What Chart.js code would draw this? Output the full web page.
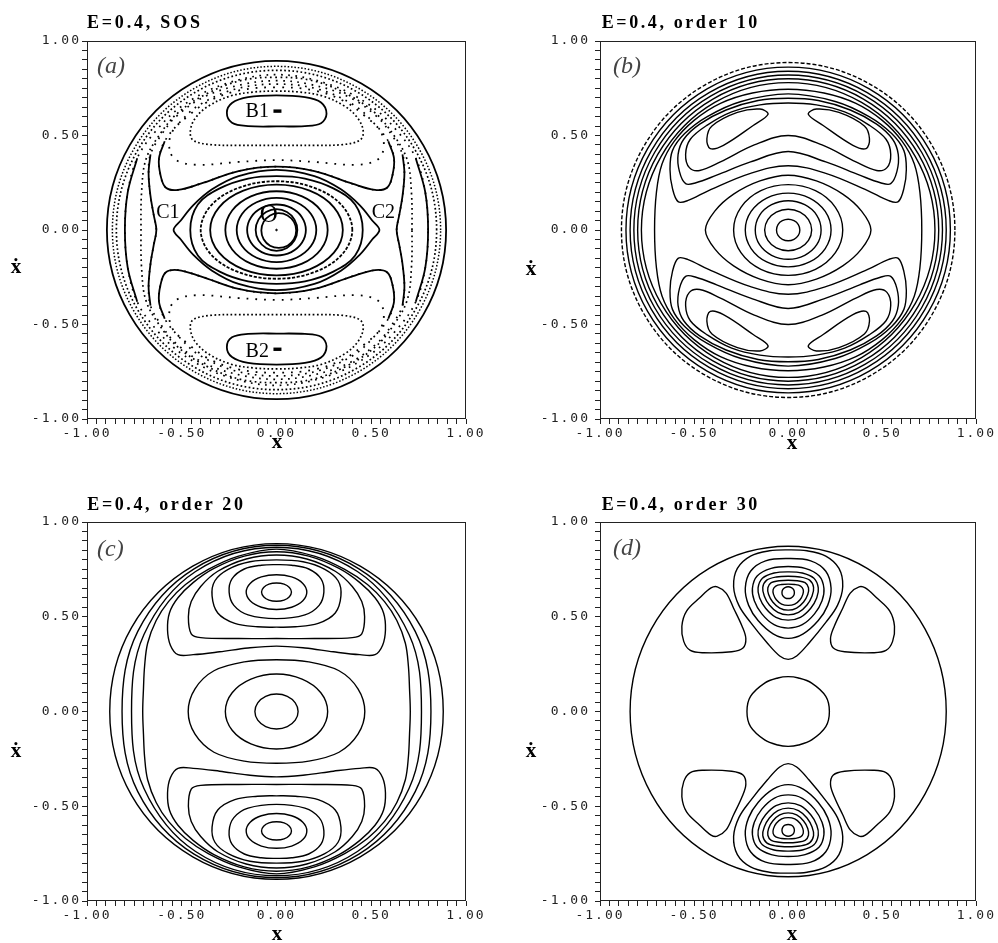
<!DOCTYPE html>
<html>
<head>
<meta charset="utf-8">
<script src="https://cdn.jsdelivr.net/npm/chart.js@4.4.1/dist/chart.umd.min.js"></script>
<style>
  body { margin: 0; background: #fff; width: 998px; height: 943px; position: relative; overflow: hidden; }
  canvas { position: absolute; }
</style>
</head>
<body>
<canvas id="pa" width="500" height="470" style="left:0;top:0"></canvas>
<canvas id="pb" width="498" height="470" style="left:500px;top:0"></canvas>
<canvas id="pc" width="500" height="473" style="left:0;top:470px"></canvas>
<canvas id="pd" width="498" height="473" style="left:500px;top:470px"></canvas>
<script>
// ---------- (a) surface of section ----------
const aOuter = [[0.895,0],[0.775,0.448],[0.448,0.775],[0,0.895],[-0.448,0.775],[-0.775,0.448],[-0.895,0],[-0.775,-0.448],[-0.448,-0.775],[0,-0.895],[0.448,-0.775],[0.775,-0.448]];
const aRing1 = [[0.866,0],[0.75,0.433],[0.433,0.75],[0,0.866],[-0.433,0.75],[-0.75,0.433],[-0.866,0],[-0.75,-0.433],[-0.433,-0.75],[0,-0.866],[0.433,-0.75],[0.75,-0.433]];
const aRing2 = [[0.845,0],[0.732,0.423],[0.423,0.732],[0,0.845],[-0.423,0.732],[-0.732,0.423],[-0.845,0],[-0.732,-0.423],[-0.423,-0.732],[0,-0.845],[0.423,-0.732],[0.732,-0.423]];
const aSecond = [[0.80,0],[0.785,0.2],[0.735,0.38],[0.64,0.52],[0.5,0.655],[0.28,0.77],[0,0.822],[-0.28,0.77],[-0.5,0.655],[-0.64,0.52],[-0.735,0.38],[-0.785,0.2],[-0.80,0],[-0.785,-0.2],[-0.735,-0.38],[-0.64,-0.52],[-0.5,-0.655],[-0.28,-0.77],[0,-0.822],[0.28,-0.77],[0.5,-0.655],[0.64,-0.52],[0.735,-0.38],[0.785,-0.2]];
const aSecondR = [[0.735,0.38],[0.785,0.2],[0.80,0],[0.785,-0.2],[0.735,-0.38]];
const aSecondL = [[-0.735,0.38],[-0.785,0.2],[-0.80,0],[-0.785,-0.2],[-0.735,-0.38]];
const aChain = [[0.715,0],[0.712,0.2],[0.69,0.37],[0.62,0.5],[0.52,0.62],[0.37,0.72],[0.19,0.79],[0,0.808],[-0.19,0.79],[-0.37,0.72],[-0.52,0.62],[-0.62,0.5],[-0.69,0.37],[-0.712,0.2],[-0.715,0],[-0.712,-0.2],[-0.69,-0.37],[-0.62,-0.5],[-0.52,-0.62],[-0.37,-0.72],[-0.19,-0.79],[0,-0.808],[0.19,-0.79],[0.37,-0.72],[0.52,-0.62],[0.62,-0.5],[0.69,-0.37],[0.712,-0.2]];
const aSep = [[0.634,0],[0.648,0.08],[0.665,0.18],[0.675,0.3],[0.665,0.4],[0.61,0.5],[0.53,0.6],[0.38,0.705],[0.18,0.77],[0,0.79],[-0.18,0.77],[-0.38,0.705],[-0.53,0.6],[-0.61,0.5],[-0.665,0.4],[-0.675,0.3],[-0.665,0.18],[-0.648,0.08],[-0.634,0],[-0.648,-0.08],[-0.665,-0.18],[-0.675,-0.3],[-0.665,-0.4],[-0.61,-0.5],[-0.53,-0.6],[-0.38,-0.705],[-0.18,-0.77],[0,-0.79],[0.18,-0.77],[0.38,-0.705],[0.53,-0.6],[0.61,-0.5],[0.665,-0.4],[0.675,-0.3],[0.665,-0.18],[0.648,-0.08]];
const aSepR = [[0.665,0.4],[0.675,0.3],[0.665,0.18],[0.648,0.08],[0.634,0],[0.648,-0.08],[0.665,-0.18],[0.675,-0.3],[0.665,-0.4]];
const aSepL = [[-0.665,0.4],[-0.675,0.3],[-0.665,0.18],[-0.648,0.08],[-0.634,0],[-0.648,-0.08],[-0.665,-0.18],[-0.675,-0.3],[-0.665,-0.4]];
const aIslandB1 = [[-0.262,0.62],[-0.235,0.672],[-0.15,0.703],[0,0.712],[0.15,0.703],[0.235,0.675],[0.264,0.615],[0.235,0.565],[0.15,0.55],[0,0.548],[-0.15,0.55],[-0.235,0.568]];
const aIslandB2 = [[-0.262,-0.62],[-0.235,-0.568],[-0.15,-0.55],[0,-0.548],[0.15,-0.55],[0.235,-0.565],[0.264,-0.615],[0.235,-0.675],[0.15,-0.703],[0,-0.712],[-0.15,-0.703],[-0.235,-0.672]];
const aUp2 = [[-0.455,0.52],[-0.43,0.59],[-0.36,0.655],[-0.24,0.71],[-0.12,0.73],[0,0.735],[0.12,0.73],[0.24,0.71],[0.36,0.655],[0.43,0.59],[0.458,0.52],[0.44,0.475],[0.35,0.452],[0.2,0.448],[0,0.448],[-0.2,0.448],[-0.35,0.452],[-0.44,0.475]];
const aLo2 = [[-0.455,-0.52],[-0.43,-0.59],[-0.36,-0.655],[-0.24,-0.71],[-0.12,-0.73],[0,-0.735],[0.12,-0.73],[0.24,-0.71],[0.36,-0.655],[0.43,-0.59],[0.458,-0.52],[0.44,-0.475],[0.35,-0.452],[0.2,-0.448],[0,-0.448],[-0.2,-0.448],[-0.35,-0.452],[-0.44,-0.475]];
const aUp3 = [[-0.565,0.43],[-0.55,0.52],[-0.47,0.6],[-0.36,0.68],[-0.2,0.738],[0,0.755],[0.2,0.738],[0.36,0.68],[0.47,0.6],[0.55,0.52],[0.565,0.43],[0.53,0.37],[0.42,0.345],[0.2,0.36],[0,0.37],[-0.2,0.36],[-0.42,0.345],[-0.53,0.37]];
const aLo3 = [[-0.565,-0.43],[-0.55,-0.52],[-0.47,-0.6],[-0.36,-0.68],[-0.2,-0.738],[0,-0.755],[0.2,-0.738],[0.36,-0.68],[0.47,-0.6],[0.55,-0.52],[0.565,-0.43],[0.53,-0.37],[0.42,-0.345],[0.2,-0.36],[0,-0.37],[-0.2,-0.36],[-0.42,-0.345],[-0.53,-0.37]];
const aUp4 = [[-0.585,0.225],[-0.612,0.29],[-0.62,0.38],[-0.59,0.47],[-0.51,0.57],[-0.41,0.66],[-0.22,0.745],[0,0.772],[0.22,0.745],[0.41,0.66],[0.51,0.57],[0.59,0.47],[0.62,0.38],[0.612,0.29],[0.585,0.225],[0.52,0.212],[0.4,0.245],[0.2,0.312],[0,0.335],[-0.2,0.312],[-0.4,0.245],[-0.52,0.212]];
const aUp4Arc = [[-0.59,0.47],[-0.62,0.38],[-0.612,0.29],[-0.585,0.225],[-0.52,0.212],[-0.4,0.245],[-0.2,0.312],[0,0.335],[0.2,0.312],[0.4,0.245],[0.52,0.212],[0.585,0.225],[0.612,0.29],[0.62,0.38],[0.59,0.47]];
const aLo4 = [[-0.585,-0.225],[-0.612,-0.29],[-0.62,-0.38],[-0.59,-0.47],[-0.51,-0.57],[-0.41,-0.66],[-0.22,-0.745],[0,-0.772],[0.22,-0.745],[0.41,-0.66],[0.51,-0.57],[0.59,-0.47],[0.62,-0.38],[0.612,-0.29],[0.585,-0.225],[0.52,-0.212],[0.4,-0.245],[0.2,-0.312],[0,-0.335],[-0.2,-0.312],[-0.4,-0.245],[-0.52,-0.212]];
const aLo4Arc = [[-0.59,-0.47],[-0.62,-0.38],[-0.612,-0.29],[-0.585,-0.225],[-0.52,-0.212],[-0.4,-0.245],[-0.2,-0.312],[0,-0.335],[0.2,-0.312],[0.4,-0.245],[0.52,-0.212],[0.585,-0.225],[0.612,-0.29],[0.62,-0.38],[0.59,-0.47]];
const aEye = [[-0.543,0],[-0.505,0.05],[-0.44,0.13],[-0.34,0.215],[-0.2,0.285],[0,0.318],[0.2,0.285],[0.34,0.215],[0.44,0.13],[0.505,0.05],[0.543,0],[0.505,-0.05],[0.44,-0.13],[0.34,-0.215],[0.2,-0.285],[0,-0.318],[-0.2,-0.285],[-0.34,-0.215],[-0.44,-0.13],[-0.505,-0.05]];
const aRing7 = [[0.455,0],[0.415,0.135],[0.3,0.22],[0.15,0.272],[0,0.285],[-0.15,0.272],[-0.3,0.22],[-0.415,0.135],[-0.455,0],[-0.415,-0.135],[-0.3,-0.22],[-0.15,-0.272],[0,-0.285],[0.15,-0.272],[0.3,-0.22],[0.415,-0.135]];
const aDashRing = [[0.4,0],[0.346,0.129],[0.2,0.223],[0,0.258],[-0.2,0.223],[-0.346,0.129],[-0.4,0],[-0.346,-0.129],[-0.2,-0.223],[0,-0.258],[0.2,-0.223],[0.346,-0.129]];
const aRing6 = [[0.35,0],[0.303,0.12],[0.175,0.208],[0,0.24],[-0.175,0.208],[-0.303,0.12],[-0.35,0],[-0.303,-0.12],[-0.175,-0.208],[0,-0.24],[0.175,-0.208],[0.303,-0.12]];
const aRing5 = [[0.27,0],[0.234,0.103],[0.135,0.178],[0,0.205],[-0.135,0.178],[-0.234,0.103],[-0.27,0],[-0.234,-0.103],[-0.135,-0.178],[0,-0.205],[0.135,-0.178],[0.234,-0.103]];
const aRing4 = [[0.21,0],[0.182,0.085],[0.105,0.147],[0,0.17],[-0.105,0.147],[-0.182,0.085],[-0.21,0],[-0.182,-0.085],[-0.105,-0.147],[0,-0.17],[0.105,-0.147],[0.182,-0.085]];
const aRing3 = [[0.155,0],[0.134,0.068],[0.078,0.117],[0,0.135],[-0.078,0.117],[-0.134,0.068],[-0.155,0],[-0.134,-0.068],[-0.078,-0.117],[0,-0.135],[0.078,-0.117],[0.134,-0.068]];
const aRing2c = [[0.11,0],[0.095,0.055],[0.055,0.095],[0,0.11],[-0.055,0.095],[-0.095,0.055],[-0.11,0],[-0.095,-0.055],[-0.055,-0.095],[0,-0.11],[0.055,-0.095],[0.095,-0.055]];
const aRing1c = [[0.104,-0.003],[0.092,0.043],[0.058,0.077],[0.012,0.089],[-0.034,0.077],[-0.068,0.043],[-0.08,-0.003],[-0.068,-0.049],[-0.034,-0.083],[0.012,-0.095],[0.058,-0.083],[0.092,-0.049]];
const aFixedB1 = [[0.005,0.629]];
const aFixedB2 = [[0.005,-0.631]];
const aFixedO = [[0,0]];

// ---------- (b) order 10 ----------
const bRing1 = [[0.886,0],[0.767,0.443],[0.443,0.767],[0,0.886],[-0.443,0.767],[-0.767,0.443],[-0.886,0],[-0.767,-0.443],[-0.443,-0.767],[0,-0.886],[0.443,-0.767],[0.767,-0.443]];
const bRing2 = [[0.862,0],[0.747,0.431],[0.431,0.747],[0,0.862],[-0.431,0.747],[-0.747,0.431],[-0.862,0],[-0.747,-0.431],[-0.431,-0.747],[0,-0.862],[0.431,-0.747],[0.747,-0.431]];
const bRing3 = [[0.84,0],[0.727,0.42],[0.42,0.727],[0,0.84],[-0.42,0.727],[-0.727,0.42],[-0.84,0],[-0.727,-0.42],[-0.42,-0.727],[0,-0.84],[0.42,-0.727],[0.727,-0.42]];
const bRing4 = [[0.82,0],[0.71,0.41],[0.41,0.71],[0,0.82],[-0.41,0.71],[-0.71,0.41],[-0.82,0],[-0.71,-0.41],[-0.41,-0.71],[0,-0.82],[0.41,-0.71],[0.71,-0.41]];
const bRing5 = [[0.8,0],[0.693,0.4],[0.4,0.693],[0,0.8],[-0.4,0.693],[-0.693,0.4],[-0.8,0],[-0.693,-0.4],[-0.4,-0.693],[0,-0.8],[0.4,-0.693],[0.693,-0.4]];
const bRing6 = [[0.78,0],[0.675,0.39],[0.39,0.675],[0,0.78],[-0.39,0.675],[-0.675,0.39],[-0.78,0],[-0.675,-0.39],[-0.39,-0.675],[0,-0.78],[0.39,-0.675],[0.675,-0.39]];
const bSide = [[0.71,0],[0.70,0.2],[0.67,0.35],[0.605,0.47],[0.5,0.58],[0.36,0.67],[0.19,0.725],[0,0.745],[-0.19,0.725],[-0.36,0.67],[-0.5,0.58],[-0.605,0.47],[-0.67,0.35],[-0.70,0.2],[-0.71,0],[-0.70,-0.2],[-0.67,-0.35],[-0.605,-0.47],[-0.5,-0.58],[-0.36,-0.67],[-0.19,-0.725],[0,-0.745],[0.19,-0.725],[0.36,-0.67],[0.5,-0.58],[0.605,-0.47],[0.67,-0.35],[0.70,-0.2]];
const bWingUp = [[-0.585,0.15],[-0.615,0.22],[-0.628,0.32],[-0.615,0.42],[-0.55,0.51],[-0.43,0.6],[-0.25,0.68],[0,0.72],[0.25,0.68],[0.43,0.6],[0.55,0.51],[0.615,0.42],[0.628,0.32],[0.615,0.22],[0.585,0.15],[0.535,0.155],[0.42,0.21],[0.2,0.3],[0,0.34],[-0.2,0.3],[-0.42,0.21],[-0.535,0.155]];
const bWingLo = [[-0.585,-0.15],[-0.615,-0.22],[-0.628,-0.32],[-0.615,-0.42],[-0.55,-0.51],[-0.43,-0.6],[-0.25,-0.68],[0,-0.72],[0.25,-0.68],[0.43,-0.6],[0.55,-0.51],[0.615,-0.42],[0.628,-0.32],[0.615,-0.22],[0.585,-0.15],[0.535,-0.155],[0.42,-0.21],[0.2,-0.3],[0,-0.34],[-0.2,-0.3],[-0.42,-0.21],[-0.535,-0.155]];
const bArchUp = [[-0.545,0.245],[-0.578,0.31],[-0.585,0.4],[-0.555,0.48],[-0.47,0.56],[-0.33,0.635],[-0.16,0.685],[0,0.697],[0.16,0.685],[0.33,0.635],[0.47,0.56],[0.555,0.48],[0.585,0.4],[0.578,0.31],[0.545,0.245],[0.49,0.25],[0.38,0.29],[0.2,0.36],[0,0.415],[-0.2,0.36],[-0.38,0.29],[-0.49,0.25]];
const bArchLo = [[-0.545,-0.245],[-0.578,-0.31],[-0.585,-0.4],[-0.555,-0.48],[-0.47,-0.56],[-0.33,-0.635],[-0.16,-0.685],[0,-0.697],[0.16,-0.685],[0.33,-0.635],[0.47,-0.56],[0.555,-0.48],[0.585,-0.4],[0.578,-0.31],[0.545,-0.245],[0.49,-0.25],[0.38,-0.29],[0.2,-0.36],[0,-0.415],[-0.2,-0.36],[-0.38,-0.29],[-0.49,-0.25]];
const bPairUp = [[-0.525,0.33],[-0.545,0.4],[-0.52,0.48],[-0.43,0.555],[-0.3,0.625],[-0.15,0.662],[0,0.672],[0.15,0.662],[0.3,0.625],[0.43,0.555],[0.52,0.48],[0.545,0.4],[0.525,0.33],[0.47,0.315],[0.36,0.36],[0.18,0.45],[0,0.5],[-0.18,0.45],[-0.36,0.36],[-0.47,0.315]];
const bPairLo = [[-0.525,-0.33],[-0.545,-0.4],[-0.52,-0.48],[-0.43,-0.555],[-0.3,-0.625],[-0.15,-0.662],[0,-0.672],[0.15,-0.662],[0.3,-0.625],[0.43,-0.555],[0.52,-0.48],[0.545,-0.4],[0.525,-0.33],[0.47,-0.315],[0.36,-0.36],[0.18,-0.45],[0,-0.5],[-0.18,-0.45],[-0.36,-0.36],[-0.47,-0.315]];
const bIslUL = [[-0.432,0.483],[-0.405,0.55],[-0.27,0.622],[-0.15,0.64],[-0.107,0.612],[-0.186,0.553],[-0.344,0.448],[-0.414,0.431]];
const bIslUR = [[0.432,0.483],[0.414,0.431],[0.344,0.448],[0.186,0.553],[0.107,0.612],[0.15,0.64],[0.27,0.622],[0.405,0.55]];
const bIslLL = [[-0.432,-0.483],[-0.414,-0.431],[-0.344,-0.448],[-0.186,-0.553],[-0.107,-0.612],[-0.15,-0.64],[-0.27,-0.622],[-0.405,-0.55]];
const bIslLR = [[0.432,-0.483],[0.405,-0.55],[0.27,-0.622],[0.15,-0.64],[0.107,-0.612],[0.186,-0.553],[0.344,-0.448],[0.414,-0.431]];
const bOval6 = [[0.44,0],[0.39,0.1],[0.29,0.19],[0.15,0.26],[0,0.29],[-0.15,0.26],[-0.29,0.19],[-0.39,0.1],[-0.44,0],[-0.39,-0.1],[-0.29,-0.19],[-0.15,-0.26],[0,-0.29],[0.15,-0.26],[0.29,-0.19],[0.39,-0.1]];
const bOval5 = [[0.29,0],[0.251,0.12],[0.145,0.208],[0,0.24],[-0.145,0.208],[-0.251,0.12],[-0.29,0],[-0.251,-0.12],[-0.145,-0.208],[0,-0.24],[0.145,-0.208],[0.251,-0.12]];
const bOval4 = [[0.228,0],[0.197,0.098],[0.114,0.169],[0,0.195],[-0.114,0.169],[-0.197,0.098],[-0.228,0],[-0.197,-0.098],[-0.114,-0.169],[0,-0.195],[0.114,-0.169],[0.197,-0.098]];
const bOval3 = [[0.175,0],[0.152,0.078],[0.088,0.134],[0,0.155],[-0.088,0.134],[-0.152,0.078],[-0.175,0],[-0.152,-0.078],[-0.088,-0.134],[0,-0.155],[0.088,-0.134],[0.152,-0.078]];
const bOval2 = [[0.125,0],[0.108,0.055],[0.063,0.095],[0,0.11],[-0.063,0.095],[-0.108,0.055],[-0.125,0],[-0.108,-0.055],[-0.063,-0.095],[0,-0.11],[0.063,-0.095],[0.108,-0.055]];
const bOval1 = [[0.062,0],[0.054,0.029],[0.031,0.049],[0,0.057],[-0.031,0.049],[-0.054,0.029],[-0.062,0],[-0.054,-0.029],[-0.031,-0.049],[0,-0.057],[0.031,-0.049],[0.054,-0.029]];

// ---------- (c) order 20 ----------
const cRing1 = [[0.88,0],[0.765,0.443],[0.442,0.767],[0,0.886],[-0.442,0.767],[-0.765,0.443],[-0.88,0],[-0.765,-0.443],[-0.442,-0.767],[0,-0.886],[0.442,-0.767],[0.765,-0.443]];
const cRing2 = [[0.815,0],[0.732,0.423],[0.435,0.753],[0,0.877],[-0.435,0.753],[-0.732,0.423],[-0.815,0],[-0.732,-0.423],[-0.435,-0.753],[0,-0.877],[0.435,-0.753],[0.732,-0.423]];
const cRing3 = [[0.765,0],[0.70,0.405],[0.427,0.739],[0,0.867],[-0.427,0.739],[-0.70,0.405],[-0.765,0],[-0.70,-0.405],[-0.427,-0.739],[0,-0.867],[0.427,-0.739],[0.70,-0.405]];
const cSide = [[0.706,0],[0.702,0.12],[0.696,0.24],[0.68,0.36],[0.635,0.48],[0.57,0.58],[0.48,0.67],[0.36,0.75],[0.2,0.82],[0,0.857],[-0.2,0.82],[-0.36,0.75],[-0.48,0.67],[-0.57,0.58],[-0.635,0.48],[-0.68,0.36],[-0.696,0.24],[-0.702,0.12],[-0.706,0],[-0.702,-0.12],[-0.696,-0.24],[-0.68,-0.36],[-0.635,-0.48],[-0.57,-0.58],[-0.48,-0.67],[-0.36,-0.75],[-0.2,-0.82],[0,-0.857],[0.2,-0.82],[0.36,-0.75],[0.48,-0.67],[0.57,-0.58],[0.635,-0.48],[0.68,-0.36],[0.696,-0.24],[0.702,-0.12]];
const cUp6 = [[-0.52,0.3],[-0.56,0.35],[-0.575,0.43],[-0.565,0.52],[-0.52,0.6],[-0.44,0.68],[-0.33,0.755],[-0.17,0.82],[0,0.843],[0.17,0.82],[0.33,0.755],[0.44,0.68],[0.52,0.6],[0.565,0.52],[0.575,0.43],[0.56,0.35],[0.52,0.3],[0.44,0.3],[0.3,0.315],[0.15,0.335],[0,0.345],[-0.15,0.335],[-0.3,0.315],[-0.44,0.3]];
const cUp5 = [[-0.45,0.41],[-0.465,0.5],[-0.45,0.58],[-0.4,0.66],[-0.31,0.74],[-0.16,0.805],[0,0.826],[0.16,0.805],[0.31,0.74],[0.4,0.66],[0.45,0.58],[0.465,0.5],[0.45,0.41],[0.4,0.39],[0.2,0.385],[0,0.385],[-0.2,0.385],[-0.4,0.39]];
const cUp4 = [[-0.34,0.61],[-0.325,0.69],[-0.255,0.75],[-0.14,0.79],[0,0.8],[0.14,0.79],[0.255,0.75],[0.325,0.69],[0.34,0.61],[0.31,0.52],[0.22,0.465],[0.1,0.447],[0,0.445],[-0.1,0.447],[-0.22,0.465],[-0.31,0.52]];
const cUp3 = [[-0.25,0.63],[-0.235,0.7],[-0.17,0.752],[-0.08,0.772],[0,0.775],[0.08,0.772],[0.17,0.752],[0.235,0.7],[0.25,0.63],[0.225,0.56],[0.15,0.51],[0,0.49],[-0.15,0.51],[-0.225,0.56]];
const cUp2 = [[0.16,0.63],[0.139,0.676],[0.08,0.71],[0,0.722],[-0.08,0.71],[-0.139,0.676],[-0.16,0.63],[-0.139,0.584],[-0.08,0.55],[0,0.538],[0.08,0.55],[0.139,0.584]];
const cUp1 = [[0.079,0.63],[0.068,0.654],[0.04,0.672],[0,0.678],[-0.04,0.672],[-0.068,0.654],[-0.079,0.63],[-0.068,0.606],[-0.04,0.588],[0,0.582],[0.04,0.588],[0.068,0.606]];
const cLo6 = [[-0.52,-0.3],[-0.56,-0.35],[-0.575,-0.43],[-0.565,-0.52],[-0.52,-0.6],[-0.44,-0.68],[-0.33,-0.755],[-0.17,-0.82],[0,-0.843],[0.17,-0.82],[0.33,-0.755],[0.44,-0.68],[0.52,-0.6],[0.565,-0.52],[0.575,-0.43],[0.56,-0.35],[0.52,-0.3],[0.44,-0.3],[0.3,-0.315],[0.15,-0.335],[0,-0.345],[-0.15,-0.335],[-0.3,-0.315],[-0.44,-0.3]];
const cLo5 = [[-0.45,-0.41],[-0.465,-0.5],[-0.45,-0.58],[-0.4,-0.66],[-0.31,-0.74],[-0.16,-0.805],[0,-0.826],[0.16,-0.805],[0.31,-0.74],[0.4,-0.66],[0.45,-0.58],[0.465,-0.5],[0.45,-0.41],[0.4,-0.39],[0.2,-0.385],[0,-0.385],[-0.2,-0.385],[-0.4,-0.39]];
const cLo4 = [[-0.34,-0.61],[-0.325,-0.69],[-0.255,-0.75],[-0.14,-0.79],[0,-0.8],[0.14,-0.79],[0.255,-0.75],[0.325,-0.69],[0.34,-0.61],[0.31,-0.52],[0.22,-0.465],[0.1,-0.447],[0,-0.445],[-0.1,-0.447],[-0.22,-0.465],[-0.31,-0.52]];
const cLo3 = [[-0.25,-0.63],[-0.235,-0.7],[-0.17,-0.752],[-0.08,-0.772],[0,-0.775],[0.08,-0.772],[0.17,-0.752],[0.235,-0.7],[0.25,-0.63],[0.225,-0.56],[0.15,-0.51],[0,-0.49],[-0.15,-0.51],[-0.225,-0.56]];
const cLo2 = [[0.16,-0.63],[0.139,-0.676],[0.08,-0.71],[0,-0.722],[-0.08,-0.71],[-0.139,-0.676],[-0.16,-0.63],[-0.139,-0.584],[-0.08,-0.55],[0,-0.538],[0.08,-0.55],[0.139,-0.584]];
const cLo1 = [[0.079,-0.63],[0.068,-0.654],[0.04,-0.672],[0,-0.678],[-0.04,-0.672],[-0.068,-0.654],[-0.079,-0.63],[-0.068,-0.606],[-0.04,-0.588],[0,-0.582],[0.04,-0.588],[0.068,-0.606]];
const cMid3 = [[0.466,0],[0.43,0.12],[0.33,0.215],[0.17,0.262],[0,0.273],[-0.17,0.262],[-0.33,0.215],[-0.43,0.12],[-0.466,0],[-0.43,-0.12],[-0.33,-0.215],[-0.17,-0.262],[0,-0.273],[0.17,-0.262],[0.33,-0.215],[0.43,-0.12]];
const cMid2 = [[0.27,0],[0.234,0.099],[0.135,0.171],[0,0.198],[-0.135,0.171],[-0.234,0.099],[-0.27,0],[-0.234,-0.099],[-0.135,-0.171],[0,-0.198],[0.135,-0.171],[0.234,-0.099]];
const cMid1 = [[0.114,0],[0.099,0.046],[0.057,0.08],[0,0.092],[-0.057,0.08],[-0.099,0.046],[-0.114,0],[-0.099,-0.046],[-0.057,-0.08],[0,-0.092],[0.057,-0.08],[0.099,-0.046]];

// ---------- (d) order 30 ----------
const dOuter = [[0.84,0],[0.727,0.436],[0.42,0.755],[0,0.872],[-0.42,0.755],[-0.727,0.436],[-0.84,0],[-0.727,-0.436],[-0.42,-0.755],[0,-0.872],[0.42,-0.755],[0.727,-0.436]];
const dCentre = [[0.219,0],[0.2,0.08],[0.125,0.15],[0.055,0.177],[0,0.184],[-0.055,0.177],[-0.125,0.15],[-0.2,0.08],[-0.219,0],[-0.2,-0.08],[-0.125,-0.15],[-0.055,-0.177],[0,-0.184],[0.055,-0.177],[0.125,-0.15],[0.2,-0.08]];
const dTop8 = [[0,0.275],[-0.045,0.293],[-0.11,0.36],[-0.2,0.47],[-0.262,0.56],[-0.29,0.66],[-0.27,0.755],[-0.2,0.82],[-0.1,0.848],[0,0.853],[0.1,0.848],[0.2,0.82],[0.27,0.755],[0.29,0.66],[0.262,0.56],[0.2,0.47],[0.11,0.36],[0.045,0.293]];
const dTop7 = [[0,0.386],[-0.08,0.41],[-0.16,0.48],[-0.21,0.56],[-0.228,0.65],[-0.2,0.74],[-0.12,0.795],[0,0.807],[0.12,0.795],[0.2,0.74],[0.228,0.65],[0.21,0.56],[0.16,0.48],[0.08,0.41]];
const dTop6 = [[0,0.44],[-0.075,0.458],[-0.14,0.515],[-0.18,0.585],[-0.19,0.65],[-0.165,0.715],[-0.09,0.755],[0,0.765],[0.09,0.755],[0.165,0.715],[0.19,0.65],[0.18,0.585],[0.14,0.515],[0.075,0.458]];
const dTop5 = [[0,0.482],[-0.065,0.497],[-0.12,0.545],[-0.152,0.6],[-0.16,0.652],[-0.137,0.703],[-0.075,0.731],[0,0.737],[0.075,0.731],[0.137,0.703],[0.16,0.652],[0.152,0.6],[0.12,0.545],[0.065,0.497]];
const dTop4 = [[0,0.51],[-0.055,0.523],[-0.1,0.562],[-0.127,0.61],[-0.135,0.655],[-0.114,0.693],[-0.062,0.71],[0,0.714],[0.062,0.71],[0.114,0.693],[0.135,0.655],[0.127,0.61],[0.1,0.562],[0.055,0.523]];
const dTop3 = [[0,0.535],[-0.045,0.546],[-0.082,0.578],[-0.104,0.617],[-0.108,0.653],[-0.09,0.68],[-0.048,0.69],[0,0.693],[0.048,0.69],[0.09,0.68],[0.108,0.653],[0.104,0.617],[0.082,0.578],[0.045,0.546]];
const dTop2 = [[0,0.56],[-0.035,0.567],[-0.063,0.59],[-0.078,0.618],[-0.08,0.643],[-0.066,0.662],[-0.035,0.67],[0,0.672],[0.035,0.67],[0.066,0.662],[0.08,0.643],[0.078,0.618],[0.063,0.59],[0.035,0.567]];
const dTop1 = [[0.033,0.627],[0.029,0.643],[0.017,0.654],[0,0.658],[-0.017,0.654],[-0.029,0.643],[-0.033,0.627],[-0.029,0.611],[-0.017,0.6],[0,0.596],[0.017,0.6],[0.029,0.611]];
const dBot8 = [[0,-0.275],[-0.045,-0.293],[-0.11,-0.36],[-0.2,-0.47],[-0.262,-0.56],[-0.29,-0.66],[-0.27,-0.755],[-0.2,-0.82],[-0.1,-0.848],[0,-0.853],[0.1,-0.848],[0.2,-0.82],[0.27,-0.755],[0.29,-0.66],[0.262,-0.56],[0.2,-0.47],[0.11,-0.36],[0.045,-0.293]];
const dBot7 = [[0,-0.386],[-0.08,-0.41],[-0.16,-0.48],[-0.21,-0.56],[-0.228,-0.65],[-0.2,-0.74],[-0.12,-0.795],[0,-0.807],[0.12,-0.795],[0.2,-0.74],[0.228,-0.65],[0.21,-0.56],[0.16,-0.48],[0.08,-0.41]];
const dBot6 = [[0,-0.44],[-0.075,-0.458],[-0.14,-0.515],[-0.18,-0.585],[-0.19,-0.65],[-0.165,-0.715],[-0.09,-0.755],[0,-0.765],[0.09,-0.755],[0.165,-0.715],[0.19,-0.65],[0.18,-0.585],[0.14,-0.515],[0.075,-0.458]];
const dBot5 = [[0,-0.482],[-0.065,-0.497],[-0.12,-0.545],[-0.152,-0.6],[-0.16,-0.652],[-0.137,-0.703],[-0.075,-0.731],[0,-0.737],[0.075,-0.731],[0.137,-0.703],[0.16,-0.652],[0.152,-0.6],[0.12,-0.545],[0.065,-0.497]];
const dBot4 = [[0,-0.51],[-0.055,-0.523],[-0.1,-0.562],[-0.127,-0.61],[-0.135,-0.655],[-0.114,-0.693],[-0.062,-0.71],[0,-0.714],[0.062,-0.71],[0.114,-0.693],[0.135,-0.655],[0.127,-0.61],[0.1,-0.562],[0.055,-0.523]];
const dBot3 = [[0,-0.535],[-0.045,-0.546],[-0.082,-0.578],[-0.104,-0.617],[-0.108,-0.653],[-0.09,-0.68],[-0.048,-0.69],[0,-0.693],[0.048,-0.69],[0.09,-0.68],[0.108,-0.653],[0.104,-0.617],[0.082,-0.578],[0.045,-0.546]];
const dBot2 = [[0,-0.56],[-0.035,-0.567],[-0.063,-0.59],[-0.078,-0.618],[-0.08,-0.643],[-0.066,-0.662],[-0.035,-0.67],[0,-0.672],[0.035,-0.67],[0.066,-0.662],[0.08,-0.643],[0.078,-0.618],[0.063,-0.59],[0.035,-0.567]];
const dBot1 = [[0.033,-0.627],[0.029,-0.643],[0.017,-0.654],[0,-0.658],[-0.017,-0.654],[-0.029,-0.643],[-0.033,-0.627],[-0.029,-0.611],[-0.017,-0.6],[0,-0.596],[0.017,-0.6],[0.029,-0.611]];
const dTriUL = [[-0.377,0.658],[-0.33,0.625],[-0.29,0.545],[-0.245,0.45],[-0.225,0.385],[-0.24,0.335],[-0.3,0.315],[-0.45,0.31],[-0.52,0.322],[-0.555,0.37],[-0.565,0.45],[-0.54,0.53],[-0.47,0.6],[-0.41,0.652]];
const dTriUR = [[0.377,0.658],[0.41,0.652],[0.47,0.6],[0.54,0.53],[0.565,0.45],[0.555,0.37],[0.52,0.322],[0.45,0.31],[0.3,0.315],[0.24,0.335],[0.225,0.385],[0.245,0.45],[0.29,0.545],[0.33,0.625]];
const dTriLL = [[-0.377,-0.658],[-0.41,-0.652],[-0.47,-0.6],[-0.54,-0.53],[-0.565,-0.45],[-0.555,-0.37],[-0.52,-0.322],[-0.45,-0.31],[-0.3,-0.315],[-0.24,-0.335],[-0.225,-0.385],[-0.245,-0.45],[-0.29,-0.545],[-0.33,-0.625]];
const dTriLR = [[0.377,-0.658],[0.33,-0.625],[0.29,-0.545],[0.245,-0.45],[0.225,-0.385],[0.24,-0.335],[0.3,-0.315],[0.45,-0.31],[0.52,-0.322],[0.555,-0.37],[0.565,-0.45],[0.54,-0.53],[0.47,-0.6],[0.41,-0.652]];

// ---------- helpers ----------
function xy(arr) {
  return arr.map(p => ({x: p[0], y: p[1]}));
}

// closed contour: the plugin below joins the last point back to the first
function loop(arr, style) {
  return Object.assign({data: xy(arr), closed: true, borderColor: '#000', borderWidth: 1.4,
    pointRadius: 0, tension: 0.36, fill: false, borderCapStyle: 'butt'}, style || {});
}

function arc(arr, style) {
  return Object.assign(loop(arr, style), {closed: false});
}

function mark(arr, style) {
  return Object.assign({data: xy(arr), showLine: false, pointStyle: 'line', pointRadius: 4,
    pointBorderWidth: 3.4, pointBorderColor: '#000', pointBackgroundColor: '#000'}, style || {});
}

const SOLID_A = {borderWidth: 1.8};
const DOTS = {borderWidth: 1.7, borderDash: [1.7, 2.4]};
const DOTS_FINE = {borderWidth: 1.5, borderDash: [1.5, 1.9]};
const DOTS_LOOSE = {borderWidth: 1.7, borderDash: [1.7, 3.4]};
const DOTS_SCATTER = {borderWidth: 1.7, borderDash: [1.7, 5.5]};
const DOTS_SPARSE = {borderWidth: 1.8, borderDash: [1.8, 7]};

const closeLoops = {
  id: 'closeLoops',
  afterDatasetsUpdate(chart) {
    chart.data.datasets.forEach((ds, i) => {
      const line = chart.getDatasetMeta(i).dataset;
      if (ds.closed && line) {
        line._loop = true;
        line._fullLoop = true;
        line._segments = undefined;
        line._path = undefined;
        line._pointsUpdated = false;
      }
    });
  }
};

const tickSpacing = {
  id: 'tickSpacing',
  beforeLayout(chart) { chart.ctx.letterSpacing = '2px'; },
  beforeDraw(chart) { chart.ctx.letterSpacing = '2px'; }
};

// titles, axis names, frame and in-plot labels
function notes(items) {
  return {
    id: 'notes',
    afterDraw(chart) {
      const ctx = chart.ctx, a = chart.chartArea;
      ctx.save();
      ctx.strokeStyle = '#222';
      ctx.lineWidth = 1;
      ctx.setLineDash([]);
      ctx.strokeRect(Math.round(a.left) + 0.5, Math.round(a.top) + 0.5,
        Math.round(a.right - a.left) - 1, Math.round(a.bottom - a.top) - 1);
      items.forEach(t => {
        ctx.font = t.font;
        ctx.letterSpacing = t.spacing || '0px';
        ctx.fillStyle = t.color || '#000';
        ctx.textAlign = t.align || 'left';
        ctx.textBaseline = 'alphabetic';
        let x, y;
        if (t.at) {
          x = chart.scales.x.getPixelForValue(t.at[0]);
          y = chart.scales.y.getPixelForValue(t.at[1]);
        } else {
          x = t.px[0];
          y = t.px[1];
        }
        ctx.fillText(t.text, x, y);
      });
      ctx.restore();
    }
  };
}

const TITLE_FONT = 'bold 18px "Liberation Serif", "DejaVu Serif", serif';
const AXIS_FONT = 'bold 21px "Liberation Serif", "DejaVu Serif", serif';
const TAG_FONT = 'italic 24px "Liberation Serif", "DejaVu Serif", serif';
const NOTE_FONT = '20px "Liberation Serif", "DejaVu Serif", serif';

function axes(yWidth, yPad) {
  const label = v => {
    const r = Math.abs(v) < 1e-9 ? 0 : v;
    return Math.abs(r * 2 - Math.round(r * 2)) < 1e-6 ? r.toFixed(2) : '';
  };
  const ticks = {stepSize: 0.05, autoSkip: false, maxRotation: 0, maxTicksLimit: 100,
    color: '#222', font: {family: '"DejaVu Sans Mono", monospace', size: 13}, callback: label};
  const grid = {drawOnChartArea: false, drawTicks: true, tickLength: 5, color: '#222', lineWidth: 1};
  return {
    x: {type: 'linear', min: -1, max: 1, ticks: Object.assign({}, ticks, {padding: 2}), grid: grid,
        border: {display: false}, afterFit: s => { s.height = 40; }},
    y: {type: 'linear', min: -1, max: 1, ticks: Object.assign({}, ticks, {padding: yPad}), grid: grid,
        border: {display: false}, afterFit: s => { s.width = yWidth; }}
  };
}

function panel(id, datasets, pad, yWidth, yPad, texts) {
  new Chart(document.getElementById(id), {
    type: 'line',
    data: {datasets: datasets},
    options: {
      responsive: false,
      animation: false,
      events: [],
      layout: {padding: pad},
      plugins: {legend: {display: false}, tooltip: {enabled: false}, title: {display: false}},
      scales: axes(yWidth, yPad)
    },
    plugins: [tickSpacing, closeLoops, notes(texts)]
  });
}

// ---------- panels ----------
panel('pa', [
  loop(aOuter, SOLID_A),
  loop(aRing1, DOTS_FINE),
  loop(aRing2, DOTS),
  loop(aSecond, DOTS_SCATTER),
  arc(aSecondR, SOLID_A),
  arc(aSecondL, SOLID_A),
  loop(aChain, DOTS_LOOSE),
  loop(aSep, DOTS_SCATTER),
  arc(aSepR, SOLID_A),
  arc(aSepL, SOLID_A),
  loop(aIslandB1, SOLID_A),
  loop(aIslandB2, SOLID_A),
  loop(aUp2, DOTS),
  loop(aLo2, DOTS),
  loop(aUp3, DOTS_SPARSE),
  loop(aLo3, DOTS_SPARSE),
  loop(aUp4, DOTS_SCATTER),
  loop(aLo4, DOTS_SCATTER),
  arc(aUp4Arc, SOLID_A),
  arc(aLo4Arc, SOLID_A),
  loop(aEye, SOLID_A),
  loop(aRing7, SOLID_A),
  loop(aDashRing, {borderWidth: 1.8, borderDash: [3.2, 1.6]}),
  loop(aRing6, SOLID_A),
  loop(aRing5, SOLID_A),
  loop(aRing4, SOLID_A),
  loop(aRing3, SOLID_A),
  loop(aRing2c, SOLID_A),
  loop(aRing1c, SOLID_A),
  mark(aFixedB1),
  mark(aFixedB2),
  mark(aFixedO, {pointStyle: 'circle', pointRadius: 0.8, pointBorderWidth: 1})
], {left: 0, right: 34, top: 41, bottom: 11}, 87, 1, [
  {text: 'E=0.4, SOS', px: [87, 27.5], font: TITLE_FONT, spacing: '2.8px'},
  {text: '(a)', px: [97, 72.5], font: TAG_FONT, color: '#444'},
  {text: 'x', px: [277, 448], font: AXIS_FONT, align: 'center'},
  {text: '\u1E8B', px: [16, 273], font: AXIS_FONT, align: 'center'},
  {text: 'B1', at: [-0.163, 0.598], font: NOTE_FONT},
  {text: 'B2', at: [-0.163, -0.67], font: NOTE_FONT},
  {text: 'C1', at: [-0.635, 0.061], font: NOTE_FONT},
  {text: 'C2', at: [0.502, 0.061], font: NOTE_FONT},
  {text: 'O', at: [-0.089, 0.042], font: '25px "Liberation Serif", serif'}
]);

panel('pb', [
  loop(bRing1, {borderDash: [4, 2]}),
  loop(bRing2), loop(bRing3), loop(bRing4), loop(bRing5), loop(bRing6),
  loop(bSide),
  loop(bWingUp), loop(bWingLo),
  loop(bArchUp), loop(bArchLo),
  loop(bPairUp), loop(bPairLo),
  loop(bIslUL), loop(bIslUR), loop(bIslLL), loop(bIslLR),
  loop(bOval6), loop(bOval5), loop(bOval4), loop(bOval3), loop(bOval2), loop(bOval1)
], {left: 0, right: 18, top: 41, bottom: 11}, 100, 5, [
  {text: 'E=0.4, order 10', px: [101.7, 27.5], font: TITLE_FONT, spacing: '2.6px'},
  {text: '(b)', px: [113, 72.5], font: TAG_FONT, color: '#444'},
  {text: 'x', px: [292, 449], font: AXIS_FONT, align: 'center'},
  {text: '\u1E8B', px: [31, 275], font: AXIS_FONT, align: 'center'}
]);

panel('pc', [
  loop(cRing1), loop(cRing2), loop(cRing3), loop(cSide),
  loop(cUp6), loop(cUp5), loop(cUp4), loop(cUp3), loop(cUp2), loop(cUp1),
  loop(cLo6), loop(cLo5), loop(cLo4), loop(cLo3), loop(cLo2), loop(cLo1),
  loop(cMid3), loop(cMid2), loop(cMid1)
], {left: 0, right: 34, top: 52, bottom: 2}, 87, 1, [
  {text: 'E=0.4, order 20', px: [87.3, 40], font: TITLE_FONT, spacing: '2.6px'},
  {text: '(c)', px: [97, 86], font: TAG_FONT, color: '#444'},
  {text: 'x', px: [277, 470], font: AXIS_FONT, align: 'center'},
  {text: '\u1E8B', px: [16, 287], font: AXIS_FONT, align: 'center'}
]);

panel('pd', [
  loop(dOuter), loop(dCentre),
  loop(dTop8), loop(dTop7), loop(dTop6), loop(dTop5), loop(dTop4), loop(dTop3), loop(dTop2), loop(dTop1),
  loop(dBot8), loop(dBot7), loop(dBot6), loop(dBot5), loop(dBot4), loop(dBot3), loop(dBot2), loop(dBot1),
  loop(dTriUL), loop(dTriUR), loop(dTriLL), loop(dTriLR)
], {left: 0, right: 18, top: 52, bottom: 2}, 100, 5, [
  {text: 'E=0.4, order 30', px: [101.7, 40], font: TITLE_FONT, spacing: '2.6px'},
  {text: '(d)', px: [113, 85], font: TAG_FONT, color: '#444'},
  {text: 'x', px: [292, 470], font: AXIS_FONT, align: 'center'},
  {text: '\u1E8B', px: [31, 287], font: AXIS_FONT, align: 'center'}
]);
</script>
</body>
</html>
